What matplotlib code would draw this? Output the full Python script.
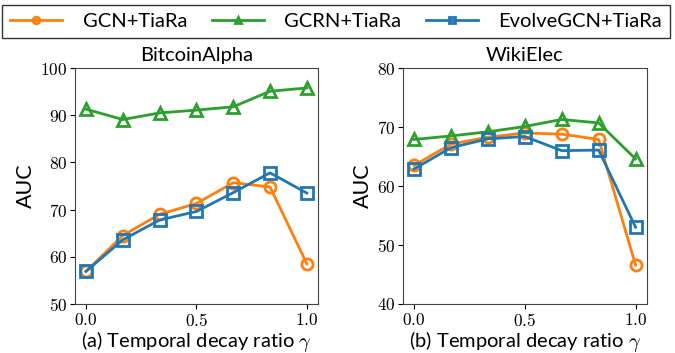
import matplotlib
matplotlib.use("Agg")
import matplotlib.pyplot as plt
from matplotlib.ticker import FuncFormatter, MultipleLocator

plt.rcParams['font.family'] = ['Lato', 'DejaVu Sans']
plt.rcParams['mathtext.fontset'] = 'cm'

gamma = [0.0, 1/6, 2/6, 3/6, 4/6, 5/6, 1.0]

# BitcoinAlpha
btc_gcn = [56.9, 64.5, 69.0, 71.3, 75.7, 74.8, 58.5]
btc_gcrn = [91.3, 89.1, 90.5, 91.1, 91.8, 95.1, 95.8]
btc_evolve = [56.9, 63.6, 67.8, 69.6, 73.6, 77.8, 73.5]

# WikiElec
wiki_gcn = [63.5, 67.1, 68.3, 69.0, 68.8, 67.9, 46.6]
wiki_gcrn = [67.9, 68.5, 69.2, 70.1, 71.3, 70.7, 64.6]
wiki_evolve = [62.9, 66.5, 68.0, 68.4, 66.0, 66.1, 53.0]

series_names = ['GCN+TiaRa', 'GCRN+TiaRa', 'EvolveGCN+TiaRa']
titles = ['BitcoinAlpha', 'WikiElec']
xlabels = [r'(a) Temporal decay ratio $\gamma$', r'(b) Temporal decay ratio $\gamma$']
ylims = [(50, 100), (40, 80)]

colors = ['#ff7f0e', '#2ca02c', '#1f77b4']
markers = ['o', '^', 's']

fig = plt.figure(figsize=(6.75, 3.53), dpi=100)
ax1 = fig.add_axes([0.111, 0.139, 0.360, 0.668])
ax2 = fig.add_axes([0.597, 0.139, 0.361, 0.668])

data = [[btc_gcn, btc_gcrn, btc_evolve], [wiki_gcn, wiki_gcrn, wiki_evolve]]

handles = []
for i, ax in enumerate([ax1, ax2]):
    for j, ys in enumerate(data[i]):
        h, = ax.plot(gamma, ys, color=colors[j], marker=markers[j], lw=2,
                     ms=8, mew=2, mfc='none', label=series_names[j])
        if i == 0:
            handles.append(h)
    ax.set_ylim(*ylims[i])
    ax.yaxis.set_major_locator(MultipleLocator(10))
    ax.xaxis.set_major_locator(MultipleLocator(0.5))
    ax.xaxis.set_major_formatter(FuncFormatter(lambda v, p: r'$%.1f$' % v))
    ax.yaxis.set_major_formatter(FuncFormatter(lambda v, p: r'$%d$' % round(v)))
    ax.tick_params(labelsize=12.5, pad=2)
    ax.set_title(titles[i], fontsize=14.5, pad=5)
    ax.set_xlabel(xlabels[i], fontsize=14.5, labelpad=0)
    ax.set_ylabel('AUC', fontsize=15.5, labelpad=3)
    for s in ax.spines.values():
        s.set_color('#444444')

fig.legend(handles=handles, loc='lower left', ncol=3, mode='expand',
           bbox_to_anchor=(0.003, 0.892, 0.99, 0.102), borderaxespad=0,
           fancybox=False, edgecolor='#333333', framealpha=1, fontsize=14.5,
           handlelength=2.6, handletextpad=1.0, borderpad=0.4,
           markerscale=0.6)

fig.savefig('out.png', dpi=100)
